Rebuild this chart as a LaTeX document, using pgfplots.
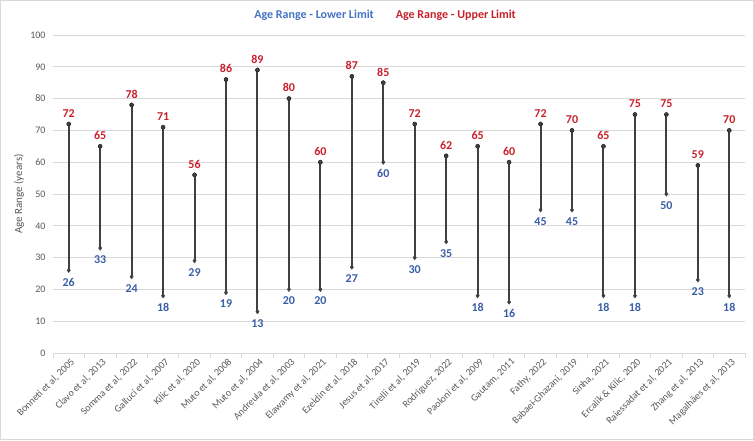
\documentclass[border=0pt]{standalone}
\usepackage{pgfplots}
\pgfplotsset{compat=1.18}
\usepackage{pgfplotstable}
\usepackage{fontspec}
\setmainfont{Carlito}
\usetikzlibrary{calc}
\definecolor{lblue}{HTML}{3A5EA6}
\definecolor{legblue}{HTML}{4472C4}
\definecolor{lred}{HTML}{C8202A}
\definecolor{lgray}{HTML}{404040}
\definecolor{gridgray}{HTML}{D9D9D9}
\definecolor{txtgray}{HTML}{595959}
\pgfplotstableread{
x lo hi
0 26 72
1 33 65
2 24 78
3 18 71
4 29 56
5 19 86
6 13 89
7 20 80
8 20 60
9 27 87
10 60 85
11 30 72
12 35 62
13 18 65
14 16 60
15 45 72
16 45 70
17 18 65
18 18 75
19 50 75
20 23 59
21 18 70
}\data
\begin{document}
\begin{tikzpicture}
\begin{axis}[name=ax,
  scale only axis, width=692pt, height=318pt,
  /pgf/number format/assume math mode=true,
  xmin=-0.5, xmax=21.5, ymin=0, ymax=100,
  ytick={0,10,...,100},
  xtick={0,...,21},
  xticklabels={{Bonneti et al, 2005},{Clavo et al, 2013},{Somma et al, 2022},{Galluci et al, 2007},{Kilic et al, 2020},{Muto et al, 2008},{Muto et al, 2004},{Andreula et al, 2003},{Elawamy et al, 2021},{Ezeldin et al, 2018},{Jesus et al, 2017},{Tirelli et al, 2019},{Rodriguez, 2022},{Paoloni et al, 2009},{Gautam, 2011},{Fathy, 2022},{Babaei-Ghazani, 2019},{Sinha, 2021},{Ercalik \& Kilic, 2020},{Raiessadat et al, 2021},{Zhang et al, 2013},{Magalhães et al, 2013}},
  minor xtick={-0.5,0.5,...,21.5},
  axis lines*=left,
  x axis line style={draw=gridgray, line width=0.8pt},
  y axis line style={draw=none},
  major tick length=0pt,
  minor tick length=5pt,
  tick align=outside,
  minor x tick style={draw=gridgray, line width=0.8pt},
  ymajorgrids,
  grid style={draw=gridgray, line width=0.8pt},
  tick label style={font=\fontsize{10}{12}\selectfont, text=txtgray},
  xticklabel style={rotate=45, anchor=north east, inner sep=2pt, yshift=-2pt},
  yticklabel style={xshift=-4pt},
  every axis y label/.style={at={(axis description cs:0,0.5)}, xshift=-34pt, rotate=90, anchor=center},
  ylabel={Age Range (years)},
  ylabel style={font=\fontsize{11}{13}\selectfont, text=txtgray},
  legend columns=2,
  legend image code/.code={},
  legend style={draw=none, fill=none, at={(0.48,1)}, anchor=south, yshift=11pt,
    font=\bfseries\fontsize{12}{14}\selectfont, /tikz/every even column/.append style={column sep=18pt}},
]
\addplot[only marks, mark=none, forget plot,
  error bars/.cd, y dir=minus, y explicit, error mark=none,
  error bar style={draw=lgray, line width=2pt}]
  table[x=x, y=hi, y error expr=\thisrow{hi}-\thisrow{lo}] {\data};
\addplot[only marks, mark=diamond*, mark size=2.2pt, color=lgray,
  nodes near coords, nodes near coords align=below,
  every node near coord/.append style={font=\bfseries\fontsize{12}{14}\selectfont, text=lblue, yshift=-4pt}]
  table[x=x, y=lo] {\data};
\addlegendentry{\textcolor{legblue}{Age Range - Lower Limit}}
\addplot[only marks, mark=diamond*, mark size=2.2pt, color=lgray,
  nodes near coords, nodes near coords align=above,
  every node near coord/.append style={font=\bfseries\fontsize{12}{14}\selectfont, text=lred, yshift=3pt}]
  table[x=x, y=hi] {\data};
\addlegendentry{\textcolor{lred}{Age Range - Upper Limit}}
\end{axis}
\draw[draw=gridgray, line width=1pt] ($(ax.south west)+(-52.5pt,-86.5pt)$) rectangle ($(ax.north east)+(8.5pt,34.5pt)$);
\end{tikzpicture}
\end{document}
